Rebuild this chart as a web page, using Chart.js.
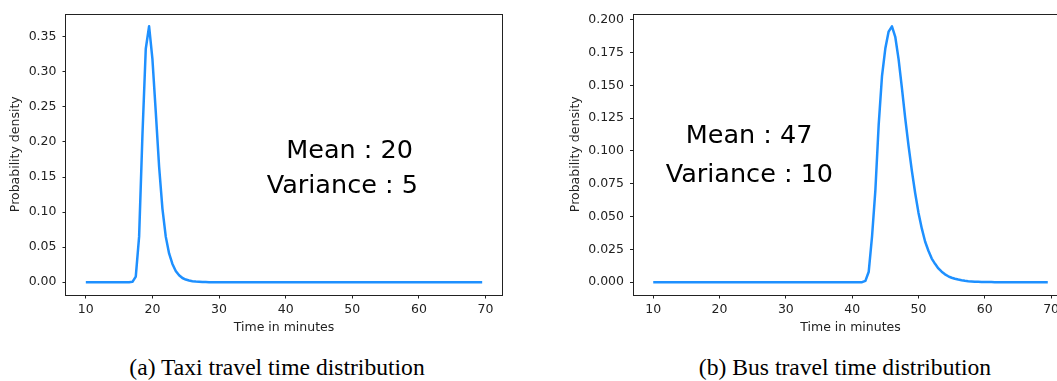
<!DOCTYPE html>
<html><head><meta charset="utf-8">
<script src="https://cdn.jsdelivr.net/npm/chart.js@4/dist/chart.umd.min.js"></script>
<style>
html,body{margin:0;padding:0;background:#fff;width:1057px;height:381px;overflow:hidden;position:relative}
canvas{position:absolute;top:0}
#c1{left:0}
#c2{left:530px}
.cap{position:absolute;top:356px;font-family:"Liberation Serif","Times New Roman",serif;font-size:23.6px;line-height:1;color:#000;white-space:nowrap;transform:translateX(-50%)}
</style></head>
<body>
<canvas id="c1" width="530" height="340"></canvas>
<canvas id="c2" width="560" height="340"></canvas>
<div class="cap" id="capA" style="left:277px">(a) Taxi travel time distribution</div>
<div class="cap" id="capB" style="left:845px">(b) Bus travel time distribution</div>
<script>
// time samples (minutes)
const times = [
10,10.5,11,11.5,12,12.5,13,13.5,14,14.5,15,15.5,16,16.5,17,17.5,18,18.5,19,19.5,
20,20.5,21,21.5,22,22.5,23,23.5,24,24.5,25,25.5,26,26.5,27,27.5,28,28.5,29,29.5,
30,30.5,31,31.5,32,32.5,33,33.5,34,34.5,35,35.5,36,36.5,37,37.5,38,38.5,39,39.5,
40,40.5,41,41.5,42,42.5,43,43.5,44,44.5,45,45.5,46,46.5,47,47.5,48,48.5,49,49.5,
50,50.5,51,51.5,52,52.5,53,53.5,54,54.5,55,55.5,56,56.5,57,57.5,58,58.5,59,59.5,
60,60.5,61,61.5,62,62.5,63,63.5,64,64.5,65,65.5,66,66.5,67,67.5,68,68.5,69,69.5];

// taxi density
const taxiDensity = [
0,0,0,0,0,0,0,0,0,0,0,0,0,0,0.0005,0.008,0.065,0.21,0.333,0.365,
0.318,0.243,0.165,0.105,0.065,0.041,0.026,0.016,0.010,0.006,0.0038,0.0024,0.0015,0.0009,0.0006,0.0004,0.0002,0.0001,0,0,
0,0,0,0,0,0,0,0,0,0,0,0,0,0,0,0,0,0,0,0,
0,0,0,0,0,0,0,0,0,0,0,0,0,0,0,0,0,0,0,0,
0,0,0,0,0,0,0,0,0,0,0,0,0,0,0,0,0,0,0,0,
0,0,0,0,0,0,0,0,0,0,0,0,0,0,0,0,0,0,0,0];

// bus density
const busDensity = [
0,0,0,0,0,0,0,0,0,0,0,0,0,0,0,0,0,0,0,0,
0,0,0,0,0,0,0,0,0,0,0,0,0,0,0,0,0,0,0,0,
0,0,0,0,0,0,0,0,0,0,0,0,0,0,0,0,0,0,0,0,
0,0,0,0,0.001,0.008,0.035,0.07,0.12,0.157,0.178,0.191,0.195,0.187,0.17,0.148,0.125,0.104,0.085,0.068,
0.053,0.041,0.031,0.024,0.018,0.014,0.0105,0.008,0.006,0.0045,0.0034,0.0026,0.002,0.0015,0.0011,0.0008,0.0006,0.0004,0.0003,0.0002,
0.00015,0.0001,0.00007,0.00005,0.00003,0,0,0,0,0,0,0,0,0,0,0,0,0,0,0];

const xTicks = [10,20,30,40,50,60,70];
const taxiYTicks = [0,0.05,0.10,0.15,0.20,0.25,0.30,0.35];
const busYTicks = [0,0.025,0.05,0.075,0.10,0.125,0.15,0.175,0.20];

const taxiNotes = ['Mean : 20','Variance : 5'];
const busNotes = ['Mean : 47','Variance : 10'];

const tickFont = {family:'DejaVu Sans', size:12.5};
const ink = '#222';

const framePlugin = {
  id:'frame',
  afterDatasetsDraw(chart){
    const a = chart.chartArea, c = chart.ctx;
    c.save();
    c.strokeStyle = ink; c.lineWidth = 1;
    c.strokeRect(Math.round(a.left)-0.5, Math.round(a.top)+0.5, Math.round(a.right)-Math.round(a.left)+1, Math.round(a.bottom)-Math.round(a.top));
    c.restore();
  }
};
const notePlugin = {
  id:'notes',
  afterDraw(chart, args, opts){
    const c = chart.ctx, xs = chart.scales.x, ys = chart.scales.y;
    c.save();
    c.font = '25.5px "DejaVu Sans"';
    c.fillStyle = '#000';
    c.textAlign = 'center';
    c.textBaseline = 'alphabetic';
    opts.items.forEach(it => c.fillText(it.text, xs.getPixelForValue(it.x), ys.getPixelForValue(it.y)));
    c.restore();
  }
};

function makeChart(id, values, yTicks, decimals, yMin, yMax, axisW, padRight, yTitlePad, notes){
  return new Chart(document.getElementById(id), {
    type:'line',
    data:{datasets:[{
      data: times.map((t,i)=>({x:t, y:values[i]})),
      borderColor:'#1E90FF', borderWidth:2.5, pointRadius:0, tension:0,
      borderJoinStyle:'round', fill:false
    }]},
    options:{
      responsive:false, animation:false, devicePixelRatio:1,
      layout:{padding:{top:11, right:padRight, left:0, bottom:0}},
      plugins:{legend:{display:false}, tooltip:{enabled:false}, notes:{items:notes}},
      scales:{
        x:{type:'linear', min:7.025, max:72.475,
          afterBuildTicks:s=>{s.ticks = xTicks.map(v=>({value:v}));},
          afterFit:s=>{s.height = 45;},
          ticks:{font:tickFont, color:ink, padding:4, maxRotation:0, autoSkip:false, callback:v=>String(v)},
          grid:{display:true, drawOnChartArea:false, drawTicks:true, tickLength:3.5, color:ink, lineWidth:1},
          border:{display:false},
          title:{display:true, text:'Time in minutes', font:tickFont, color:ink, padding:{top:0,bottom:4.5}}
        },
        y:{type:'linear', min:yMin, max:yMax,
          afterBuildTicks:s=>{s.ticks = yTicks.map(v=>({value:v}));},
          afterFit:s=>{s.width = axisW;},
          ticks:{font:tickFont, color:ink, padding:6, autoSkip:false, callback:v=>Number(v).toFixed(decimals)},
          grid:{display:true, drawOnChartArea:false, drawTicks:true, tickLength:3.5, color:ink, lineWidth:1},
          border:{display:false},
          title:{display:true, text:'Probability density', font:tickFont, color:ink, padding:{top:yTitlePad,bottom:0}}
        }
      }
    },
    plugins:[framePlugin, notePlugin]
  });
}

makeChart('c1', taxiDensity, taxiYTicks, 2, -0.01825, 0.38325, 66, 28, 8,
  [{text:taxiNotes[0], x:49.6, y:0.1765},{text:taxiNotes[1], x:48.5, y:0.1268}]);
makeChart('c2', busDensity, busYTicks, 3, -0.00975, 0.20475, 103.5, 22.5, 38.5,
  [{text:busNotes[0], x:24.46, y:0.1059},{text:busNotes[1], x:24.5, y:0.0763}]);
</script>
</body></html>
